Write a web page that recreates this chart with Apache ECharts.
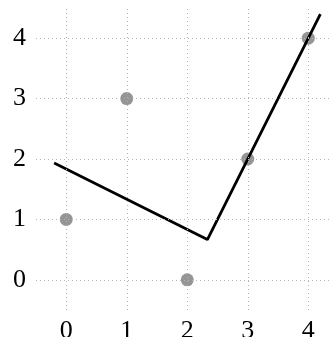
<!DOCTYPE html>
<html>
<head>
<meta charset="utf-8">
<script src="https://cdn.jsdelivr.net/npm/echarts@6/dist/echarts.min.js"></script>
<style>
  html, body { margin: 0; padding: 0; background: #fff; }
  #chart { width: 329px; height: 337px; }
</style>
</head>
<body>
<div id="chart"></div>
<script>
// Observed points
const pointX = [0, 1, 2, 3, 4];
const pointY = [1, 3, 0, 2, 4];

// Piecewise linear fit (two segments meeting at a break point)
const fitX = [-0.2, 2.333, 4.2];
const fitY = [1.933, 0.667, 4.4];

// Grid / tick positions
const xTicks = [0, 1, 2, 3, 4];
const yTicks = [0, 1, 2, 3, 4];

const FONT = '"Liberation Serif", "DejaVu Serif", serif';
const gridStyle = { color: '#b4b4b4', width: 1, type: [1, 3] };

const intLabel = v => (Math.abs(v - Math.round(v)) < 1e-6 ? String(Math.round(v)) : '');

const chart = echarts.init(document.getElementById('chart'));
chart.setOption({
  animation: false,
  backgroundColor: '#ffffff',
  grid: { left: 36, top: 8, width: 302.5, height: 302, outerBoundsMode: 'none', containLabel: false },
  xAxis: {
    type: 'value', min: -0.5, max: 4.5, interval: 0.5,
    axisLine: { show: false }, axisTick: { show: false }, splitLine: { show: false },
    axisLabel: { formatter: intLabel, color: '#000', fontFamily: FONT, fontSize: 26, margin: 8 }
  },
  yAxis: {
    type: 'value', min: -0.5, max: 4.5, interval: 0.5,
    axisLine: { show: false }, axisTick: { show: false }, splitLine: { show: false },
    axisLabel: { formatter: intLabel, color: '#000', fontFamily: FONT, fontSize: 26, margin: 10 }
  },
  series: [
    {
      type: 'scatter',
      data: pointX.map((x, i) => [x, pointY[i]]),
      symbol: 'circle', symbolSize: 13,
      itemStyle: { color: '#7a7a7a' },
      markLine: {
        silent: true, symbol: 'none', label: { show: false },
        lineStyle: gridStyle, animation: false,
        data: xTicks.map(v => ({ xAxis: v })).concat(yTicks.map(v => ({ yAxis: v })))
      },
      z: 2
    },
    {
      type: 'line',
      data: fitX.map((x, i) => [x, fitY[i]]),
      showSymbol: false, symbol: 'none',
      lineStyle: { color: '#000', width: 2.8 },
      z: 3
    }
  ]
});
</script>
</body>
</html>
